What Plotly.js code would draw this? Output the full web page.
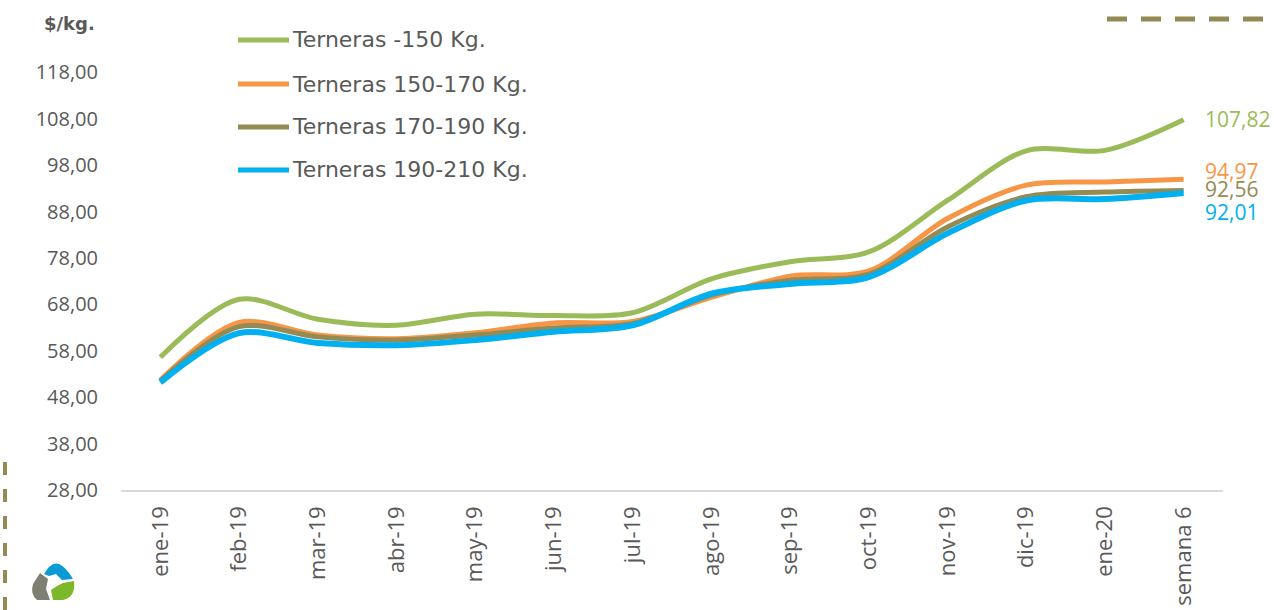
<!DOCTYPE html>
<html><head><meta charset="utf-8">
<script src="https://cdn.plot.ly/plotly-3.0.1.min.js"></script>
<style>html,body{margin:0;padding:0;background:#fff}#chart{width:1274px;height:610px}</style>
</head><body><div id="chart"></div>
<script>
var categories = ['ene-19','feb-19','mar-19','abr-19','may-19','jun-19','jul-19','ago-19','sep-19','oct-19','nov-19','dic-19','ene-20','semana 6'];
var seriesNames = ['Terneras -150 Kg.','Terneras 150-170 Kg.','Terneras 170-190 Kg.','Terneras 190-210 Kg.'];
var terneras150 = [56.6, 69.1, 64.8, 63.5, 65.9, 65.6, 66.2, 73.5, 77.2, 79.3, 90.4, 101.1, 101.2, 107.82];
var terneras150_170 = [51.7, 64.1, 61.4, 60.6, 61.9, 64.0, 64.3, 69.5, 74.1, 75.2, 86.5, 93.7, 94.4, 94.97];
var terneras170_190 = [51.5, 63.2, 61.0, 60.3, 61.4, 62.9, 63.9, 70.0, 73.2, 74.5, 84.7, 91.2, 92.2, 92.56];
var terneras190_210 = [51.2, 61.8, 59.7, 59.2, 60.3, 62.1, 63.5, 70.3, 72.4, 73.9, 83.3, 90.4, 90.7, 92.01];
var endLabels = ['107,82','94,97','92,56','92,01'];
var yTicks = [28,38,48,58,68,78,88,98,108,118];
var yTickText = ['28,00','38,00','48,00','58,00','68,00','78,00','88,00','98,00','108,00','118,00'];

var colors = ['#9BBB59','#F79646','#948A54','#00B0F0'];
var widths = [5,5,5,6];
var allSeries = [terneras150, terneras150_170, terneras170_190, terneras190_210];

var traces = allSeries.map(function(s,i){
  return {x: categories, y: s, type:'scatter', mode:'lines', name: seriesNames[i],
    line:{color:colors[i], width:widths[i], shape:'spline', smoothing:0.9}, showlegend:false, hoverinfo:'skip'};
});

var L = 121, R = 51, T = 26, B = 120, W = 1274, H = 610;
var pw = W-L-R, ph = H-T-B;
function px(x){return (x-L)/pw;}
function py(y){return (H-B-y)/ph;}

var annotations = [];
var shapes = [];
// end labels
var yshifts = [1, 8, 1, -19];
allSeries.forEach(function(s,i){
  annotations.push({x: categories[categories.length-1], y: s[s.length-1], xref:'x', yref:'y',
    text: endLabels[i], showarrow:false, xanchor:'left', yanchor:'middle', xshift:19, yshift:yshifts[i],
    font:{family:'Open Sans', size:21, color:colors[i]}});
});
// custom legend
var legY = [40, 84, 127, 170];
seriesNames.forEach(function(n,i){
  shapes.push({type:'line', xref:'paper', yref:'paper', x0:px(238), x1:px(289), y0:py(legY[i]), y1:py(legY[i]),
    line:{color:colors[i], width:5}});
  annotations.push({xref:'paper', yref:'paper', x:px(290), y:py(legY[i]), text:n, showarrow:false,
    xanchor:'left', yanchor:'middle', font:{family:'DejaVu Sans', size:22, color:'#595959'}});
});
// unit label
annotations.push({xref:'paper', yref:'paper', x:px(97), y:py(24), text:'<b>$/kg.</b>', showarrow:false,
  xanchor:'right', yanchor:'middle', font:{family:'DejaVu Sans', size:18, color:'#595959'}});
// decorative dashed lines
shapes.push({type:'line', xref:'paper', yref:'paper', x0:px(1107), x1:px(1266), y0:py(19), y1:py(19),
  line:{color:'#948A54', width:5, dash:'20px,14px'}});
shapes.push({type:'line', xref:'paper', yref:'paper', x0:px(5), x1:px(5), y0:py(462), y1:py(612),
  line:{color:'#948A54', width:4, dash:'13px,14px'}});
// logo
var ax = px(53), ay = py(582);
function logo(path, c){
  shapes.push({type:'path', xref:'paper', yref:'paper', xsizemode:'pixel', ysizemode:'pixel', xanchor:ax, yanchor:ay,
    path:path, fillcolor:c, line:{width:0}});
}
logo('M -9 8 Q -2 21 6 18 Q 13 15 20 3 L 9 2 L 3 8 L -4 6 Z', '#0A9BD7');
logo('M -13 9 L -5 3 L -7 -7 L -3 -18 L -16 -18 Q -23 -12 -20 -2 Z', '#7F7F73');
logo('M 0 -18 L -2 -8 L 4 -4 L 10 -1 L 21 1 Q 23 -15 10 -18 Z', '#7DB829');

var layout = {
  width: W, height: H,
  margin:{l:L, r:R, t:T, b:B, pad:0},
  paper_bgcolor:'#fff', plot_bgcolor:'#fff',
  showlegend:false,
  xaxis:{type:'category', range:[-0.5, 13.5], showgrid:false, zeroline:false,
    showline:true, linecolor:'#D9D9D9', linewidth:1.5, ticks:'', tickangle:-90,
    ticklabelstandoff:6,
    tickfont:{family:'Open Sans', size:22, color:'#595959'}},
  yaxis:{range:[28,128], showgrid:false, zeroline:false, showline:false, ticks:'',
    tickvals:yTicks, ticktext:yTickText, ticklabelstandoff:22,
    tickfont:{family:'Open Sans', size:20, color:'#595959'}},
  annotations: annotations,
  shapes: shapes
};
Plotly.newPlot('chart', traces, layout, {staticPlot:true, displayModeBar:false});
</script>
</body></html>
